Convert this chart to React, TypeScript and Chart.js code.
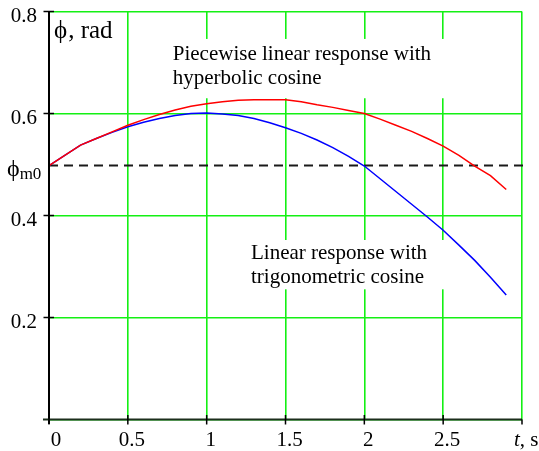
import { useEffect, useRef } from "react";
import { Chart, registerables } from "chart.js";

Chart.register(...registerables);

// time, s
const timeS = [0, 0.1, 0.2, 0.3, 0.4, 0.5, 0.6, 0.7, 0.8, 0.9, 1.0, 1.1, 1.2, 1.3, 1.4, 1.5, 1.6, 1.7, 1.8, 1.9, 2.0, 2.1, 2.2, 2.3, 2.4, 2.5, 2.6, 2.7, 2.8, 2.9];
// Piecewise linear response with hyperbolic cosine (rad)
const piecewiseHyperbolic = [0.498, 0.518, 0.538, 0.551, 0.564, 0.577, 0.588, 0.598, 0.607, 0.614, 0.619, 0.623, 0.626, 0.627, 0.627, 0.627, 0.623, 0.617, 0.612, 0.606, 0.6, 0.589, 0.577, 0.565, 0.551, 0.536, 0.518, 0.497, 0.478, 0.451];
// Linear response with trigonometric cosine (rad)
const linearTrig = [0.498, 0.518, 0.538, 0.551, 0.563, 0.574, 0.583, 0.59, 0.596, 0.6, 0.601, 0.599, 0.596, 0.59, 0.582, 0.572, 0.561, 0.548, 0.533, 0.516, 0.497, 0.472, 0.447, 0.422, 0.397, 0.371, 0.342, 0.312, 0.279, 0.244];
// reference level phi_m0
const phiM0 = 0.498;
const phiLineT = [0, 3.03];

const xTicks = [0, 0.5, 1, 1.5, 2, 2.5, 3];
const xTickLabels = ["0", "0.5", "1", "1.5", "2", "2.5", ""];
const yTicks = [0.2, 0.4, 0.6, 0.8];
const yTickLabels = ["0.2", "0.4", "0.6", "0.8"];

const PHI = "\u03D5";
const SERIF = '"Liberation Serif", "Times New Roman", Times, "DejaVu Serif", serif';

const decorPlugin = {
  id: "decor",
  beforeDatasetsDraw(chart: any) {
    const ctx = chart.ctx;
    const xs = chart.scales.x;
    const ys = chart.scales.y;
    ctx.save();
    ctx.fillStyle = "#ffffff";
    // white backgrounds behind annotations
    const boxes = [
      { t: 0.785, v: 0.705, lines: 2, w: 261, padL: 12, padR: 18, padT: 21, padB: 14 },
      { t: 1.281, v: 0.3147, lines: 2, w: 178, padL: 8, padR: 18, padT: 19, padB: 6 },
    ];
    boxes.forEach((b) => {
      const x = xs.getPixelForValue(b.t);
      const y = ys.getPixelForValue(b.v);
      const lh = 24.3;
      ctx.fillRect(x - b.padL, y - b.padT, b.w + b.padL + b.padR, (b.lines - 1) * lh + b.padT + b.padB);
    });
    ctx.restore();
  },
  afterDatasetsDraw(chart: any) {
    const ctx = chart.ctx;
    const xs = chart.scales.x;
    const ys = chart.scales.y;
    const x0 = xs.getPixelForValue(0);
    const y0 = ys.getPixelForValue(0);
    ctx.save();
    // axes
    ctx.strokeStyle = "#000000";
    ctx.lineWidth = 2;
    ctx.beginPath();
    ctx.moveTo(x0, ys.getPixelForValue(0.8));
    ctx.lineTo(x0, y0 + 4.5);
    ctx.stroke();
    ctx.strokeStyle = "#1c2e1c";
    ctx.beginPath();
    ctx.moveTo(x0 - 6, y0);
    ctx.lineTo(xs.getPixelForValue(3), y0);
    ctx.stroke();
    // tick marks
    ctx.strokeStyle = "#000000";
    ctx.lineWidth = 1.5;
    yTicks.forEach((v) => {
      const y = ys.getPixelForValue(v);
      ctx.beginPath();
      ctx.moveTo(x0 - 5.5, y);
      ctx.lineTo(x0 + 5, y);
      ctx.stroke();
    });
    xTicks.forEach((v) => {
      const x = xs.getPixelForValue(v);
      ctx.beginPath();
      ctx.moveTo(x, y0 - (v === 3 ? 0 : 4.5));
      ctx.lineTo(x, y0 + 5);
      ctx.stroke();
    });
    // tick labels
    ctx.fillStyle = "#000000";
    ctx.font = `21px ${SERIF}`;
    ctx.textAlign = "right";
    ctx.textBaseline = "alphabetic";
    yTicks.forEach((v, i) => {
      ctx.fillText(yTickLabels[i], 37, ys.getPixelForValue(v) + 10.5);
    });
    ctx.textAlign = "center";
    xTicks.forEach((v, i) => {
      if (!xTickLabels[i]) return;
      const off = v === 0 ? 7 : 4;
      ctx.fillText(xTickLabels[i], xs.getPixelForValue(v) + off, y0 + 26.5);
    });
    // x axis title "t, s"
    ctx.textAlign = "left";
    const tx = xs.getPixelForValue(3) - 8;
    ctx.font = `italic 21px ${SERIF}`;
    ctx.fillText("t", tx, y0 + 26.5);
    const tw = ctx.measureText("t").width;
    ctx.font = `21px ${SERIF}`;
    ctx.fillText(", s", tx + tw, y0 + 26.5);
    // phi_m0 label
    const yp = ys.getPixelForValue(phiM0);
    ctx.font = `24px ${SERIF}`;
    ctx.fillText(PHI, 7, yp + 10);
    const pw = ctx.measureText(PHI).width;
    ctx.font = `17px ${SERIF}`;
    ctx.fillText("m0", 7 + pw, yp + 13.5);
    // y axis title
    ctx.font = `25px ${SERIF}`;
    ctx.fillText(PHI, x0 + 5, 38);
    const pw2 = ctx.measureText(PHI).width;
    ctx.fillText(", rad", x0 + 5 + pw2 + 1, 38);
    // annotations
    ctx.font = `21px ${SERIF}`;
    const notes = [
      { t: 0.785, v: 0.705, lines: ["Piecewise linear response with", "hyperbolic cosine"] },
      { t: 1.281, v: 0.3147, lines: ["Linear response with", "trigonometric cosine"] },
    ];
    notes.forEach((n) => {
      const x = xs.getPixelForValue(n.t);
      const y = ys.getPixelForValue(n.v);
      n.lines.forEach((l, i) => ctx.fillText(l, x, y + i * 24.3));
    });
    ctx.restore();
  },
};

export default function App() {
  const ref = useRef<HTMLCanvasElement | null>(null);
  useEffect(() => {
    if (!ref.current) return;
    const green = "rgb(20,240,20)";
    const chart = new Chart(ref.current, {
      type: "line",
      data: {
        datasets: [
          {
            label: "Piecewise linear response with hyperbolic cosine",
            data: timeS.map((t, i) => ({ x: t, y: piecewiseHyperbolic[i] })),
            borderColor: "#ff0000",
            borderWidth: 1.5,
            pointRadius: 0,
            tension: 0,
          },
          {
            label: "Linear response with trigonometric cosine",
            data: timeS.map((t, i) => ({ x: t, y: linearTrig[i] })),
            borderColor: "#0000ff",
            borderWidth: 1.5,
            pointRadius: 0,
            tension: 0,
          },
          {
            label: "phi_m0",
            data: phiLineT.map((t) => ({ x: t, y: phiM0 })),
            borderColor: "#1a1a1a",
            borderWidth: 2,
            borderDash: [9, 6],
            pointRadius: 0,
            clip: false,
          },
        ],
      },
      options: {
        animation: false,
        responsive: false,
        devicePixelRatio: 1,
        layout: { padding: { top: 11.5, right: 17, left: 0, bottom: 0 } },
        plugins: { legend: { display: false }, tooltip: { enabled: false } },
        scales: {
          x: {
            type: "linear",
            min: 0,
            max: 3,
            afterBuildTicks: (s: any) => {
              s.ticks = xTicks.map((v) => ({ value: v }));
            },
            afterFit: (s: any) => {
              s.height = 31.5;
            },
            ticks: { display: false },
            grid: { color: green, lineWidth: 1.6, drawTicks: false },
            border: { display: false },
          },
          y: {
            type: "linear",
            min: 0,
            max: 0.8,
            afterBuildTicks: (s: any) => {
              s.ticks = [0, ...yTicks].map((v) => ({ value: v }));
            },
            afterFit: (s: any) => {
              s.width = 49;
            },
            ticks: { display: false },
            grid: { color: green, lineWidth: 1.6, drawTicks: false },
            border: { display: false },
          },
        },
      },
      plugins: [decorPlugin],
    } as any);
    let alive = true;
    const fonts = (document as any).fonts;
    if (fonts && fonts.load) {
      Promise.all([
        fonts.load('21px "Liberation Serif"', "\u03D50.5t"),
        fonts.load('italic 21px "Liberation Serif"', "t"),
      ])
        .catch(() => null)
        .then(() => {
          if (alive) chart.draw();
        });
    }
    return () => {
      alive = false;
      chart.destroy();
    };
  }, []);
  return (
    <div style={{ position: "fixed", left: 0, top: 0, width: 539, height: 451, background: "#fff" }}>
      <span style={{ position: "absolute", left: 0, top: 0, visibility: "hidden", fontFamily: '"Liberation Serif"' }}>
        {PHI} <i>t</i>
      </span>
      <canvas ref={ref} width={539} height={451} style={{ display: "block", position: "absolute", left: 0, top: 0 }} />
    </div>
  );
}
